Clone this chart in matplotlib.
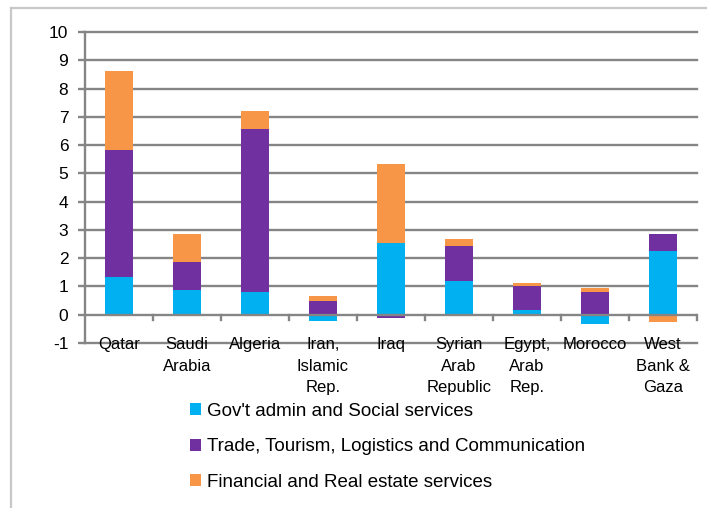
import matplotlib
matplotlib.use("Agg")
import matplotlib.pyplot as plt
import numpy as np
from matplotlib.patches import Patch
from matplotlib.lines import Line2D

categories = ["Qatar", "Saudi\nArabia", "Algeria", "Iran,\nIslamic\nRep.", "Iraq",
              "Syrian\nArab\nRepublic", "Egypt,\nArab\nRep.", "Morocco", "West\nBank &\nGaza"]
gov = [1.32, 0.86, 0.80, -0.21, 2.55, 1.20, 0.18, -0.33, 2.26]
trade = [4.50, 1.00, 5.77, 0.47, -0.12, 1.24, 0.82, 0.79, 0.60]
fin = [2.80, 1.00, 0.65, 0.18, 2.79, 0.23, 0.12, 0.17, -0.24]
series_names = ["Gov't admin and Social services",
                "Trade, Tourism, Logistics and Communication",
                "Financial and Real estate services"]
colors = ["#00B0F0", "#7030A0", "#F79646"]
yticks = list(range(-1, 11))

FONT = ["Liberation Sans", "DejaVu Sans"]
plt.rcParams['font.family'] = FONT

fig = plt.figure(figsize=(7.07, 5.08), dpi=100)
W, H = 707, 508
ax = fig.add_axes([85 / W, 1 - 343 / H, (697 - 85) / W, (343 - 32) / H])

x = np.arange(len(categories))
pos_bottom = np.zeros(len(categories))
neg_bottom = np.zeros(len(categories))
for vals, c in zip([gov, trade, fin], colors):
    v = np.array(vals)
    bottoms = np.where(v >= 0, pos_bottom, neg_bottom)
    ax.bar(x, v, bottom=bottoms, width=0.4, color=c, edgecolor='none', zorder=3)
    pos_bottom = pos_bottom + np.where(v >= 0, v, 0)
    neg_bottom = neg_bottom + np.where(v < 0, v, 0)

ax.set_xlim(-0.5, len(categories) - 0.5)
ax.set_ylim(-1, 10)
ax.set_yticks(yticks)
ax.set_yticklabels([str(t) for t in yticks], fontsize=12.5)
gridc = "#858585"
for t in yticks:
    if t != 0:
        ax.axhline(t, color=gridc, lw=1.7, zorder=1, clip_on=False)
ax.axhline(0, color=gridc, lw=1.7, zorder=4)
ax.tick_params(axis='y', length=5, width=1.7, color=gridc, pad=7)
for s in ['top', 'right', 'bottom']:
    ax.spines[s].set_visible(False)
ax.spines['left'].set_color(gridc)
ax.spines['left'].set_linewidth(1.7)
ax.set_xticks([])
for b in list(np.arange(0.5, len(categories), 1.0)):
    ax.add_line(Line2D([b, b], [0, -0.2], color=gridc, lw=1.7, zorder=4, clip_on=False))

for i, lab in enumerate(categories):
    ax.annotate(lab, xy=(i, -1), xytext=(0, 4), textcoords='offset points',
                ha='center', va='top', fontsize=12, linespacing=1.52,
                annotation_clip=False, zorder=5)

handles = [Patch(facecolor=c, edgecolor='none') for c in colors]
fig.legend(handles, series_names, loc='upper left', bbox_to_anchor=(190 / W, 1 - 403 / H),
           frameon=False, fontsize=13.5, handlelength=0.6, handleheight=0.6,
           handletextpad=0.3, labelspacing=0.98, borderaxespad=0, borderpad=0)

# outer frame (top and left edges)
fig.add_artist(Line2D([11 / W, 1], [1 - 8 / H, 1 - 8 / H], color="#c8c8c8", lw=1.6, transform=fig.transFigure))
fig.add_artist(Line2D([11 / W, 11 / W], [0, 1 - 8 / H], color="#c8c8c8", lw=1.6, transform=fig.transFigure))

fig.savefig("out.png", dpi=100)
